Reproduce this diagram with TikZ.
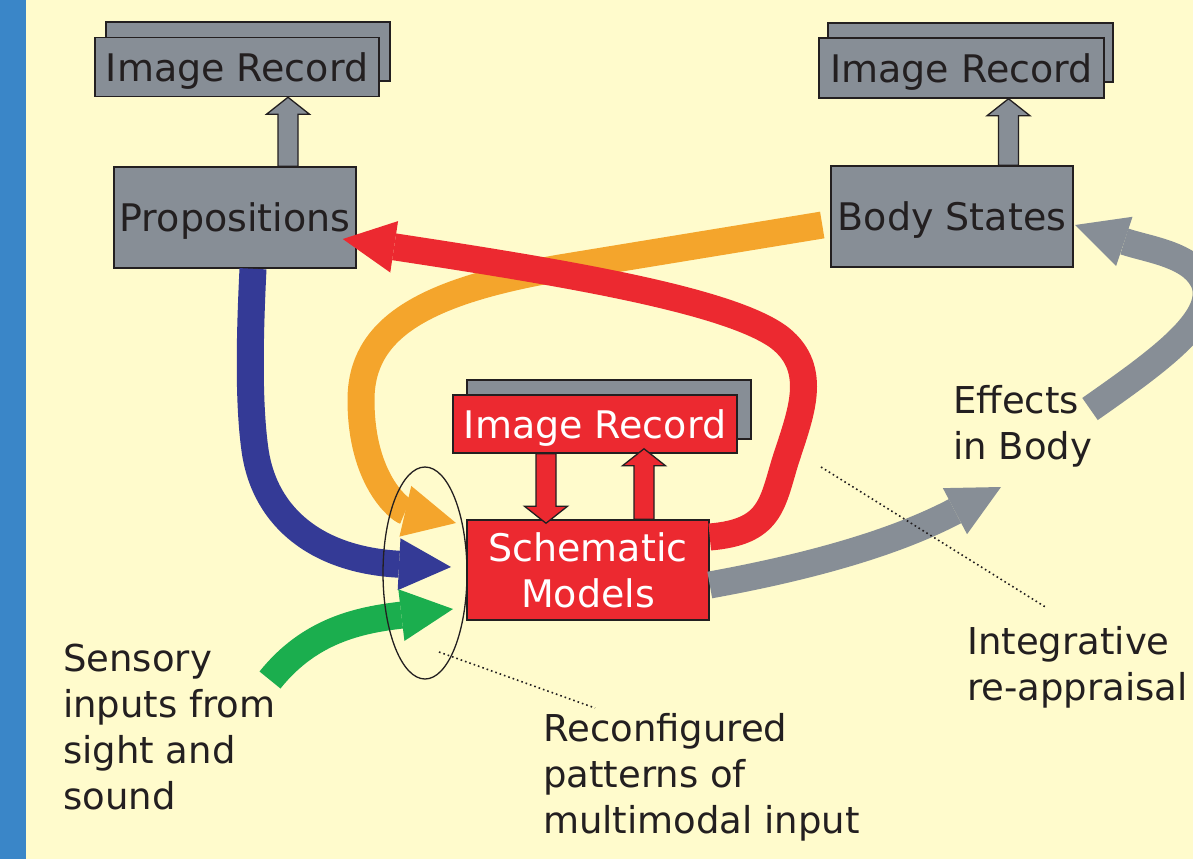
\documentclass[tikz,border=0pt]{standalone}
\usepackage{fontspec}
\setmainfont{DejaVu Sans}
\usetikzlibrary{arrows.meta,calc,shapes.geometric}

\definecolor{paper}{RGB}{255,251,204}
\definecolor{sidebar}{RGB}{58,134,200}
\definecolor{boxgray}{RGB}{135,142,150}
\definecolor{boxred}{RGB}{236,41,48}
\definecolor{inkdark}{RGB}{35,31,32}
\definecolor{flowblue}{RGB}{52,58,150}
\definecolor{floworange}{RGB}{244,165,44}
\definecolor{flowgreen}{RGB}{27,174,78}

\tikzset{
  labelfont/.style={font=\fontsize{37}{46}\selectfont, text=inkdark},
  boxfont/.style={font=\fontsize{38}{46}\selectfont},
  graybox/.style={draw=inkdark, line width=1.5pt, fill=boxgray, inner sep=0pt,
    labelfont, boxfont, text depth=0pt},
  redbox/.style={draw=inkdark, line width=1.5pt, fill=boxred, inner sep=0pt,
    labelfont, boxfont, text=white, align=center},
  backsheet/.style={draw=inkdark, line width=1.5pt, fill=boxgray, inner sep=0pt},
  blockarrow/.style={draw=inkdark, line width=1.3pt, line join=miter},
  flow/.style={line width=27pt,
    -{Triangle[length=52pt,width=52pt,line width=0pt]}},
  % the base anchor of a multi-line caption sits on its last line
  caption/.style={labelfont, anchor=base west, align=left, inner sep=0pt},
  pointer/.style={inkdark, line width=1.6pt, dash pattern=on 1.6pt off 3pt},
}

% vertical block arrows: fill colour, foot coordinate, tip coordinate
\newcommand\blockup[3]{\draw[blockarrow,fill=#1] let \p1=(#2), \p2=(#3) in
  (\x1-10pt,\y1) -- (\x1-10pt,\y2-17pt) -- (\x1-21.5pt,\y2-17pt) -- (\x1,\y2)
  -- (\x1+21.5pt,\y2-17pt) -- (\x1+10pt,\y2-17pt) -- (\x1+10pt,\y1) -- cycle;}
\newcommand\blockdown[3]{\draw[blockarrow,fill=#1] let \p1=(#2), \p2=(#3) in
  (\x1-10pt,\y1) -- (\x1-10pt,\y2+17pt) -- (\x1-21.5pt,\y2+17pt) -- (\x1,\y2)
  -- (\x1+21.5pt,\y2+17pt) -- (\x1+10pt,\y2+17pt) -- (\x1+10pt,\y1) -- cycle;}

\begin{document}
\begin{tikzpicture}[x=1pt,y=-1pt]
  \useasboundingbox (0,0) rectangle (1193,859);
  \clip (0,0) rectangle (1193,859);
  \fill[paper] (0,0) rectangle (1193,859);
  \fill[sidebar] (0,0) rectangle (26,859);

  % stacked record sheets
  \node[backsheet, minimum width=284pt, minimum height=59pt] (recAback) at (248,51.5) {};
  \node[graybox, minimum width=284pt, minimum height=59pt] (recA) at (237,67) {Image Record};
  \node[backsheet, minimum width=285pt, minimum height=59pt] (recBback) at (970.5,52.5) {};
  \node[graybox, minimum width=285pt, minimum height=60pt] (recB) at (961.5,68) {Image Record};
  \node[backsheet, minimum width=284pt, minimum height=59pt] (recCback) at (609,409.5) {};
  \node[redbox, text depth=0pt, minimum width=284pt, minimum height=58pt] (recC) at (595,424) {Image Record};

  % main boxes
  \node[graybox, minimum width=242pt, minimum height=101pt] (prop) at (235,217.5) {Propositions};
  \node[graybox, minimum width=242pt, minimum height=101pt] (body) at (952,216.5) {Body States};
  \node[redbox, minimum width=242pt, minimum height=100pt] (schem) at (588,570)
    {Schematic\\Models};

  % block arrows between boxes
  \blockup{boxgray}{$(prop.north)+(53pt,0)$}{$(recA.south)+(51pt,0)$}
  \blockup{boxgray}{$(body.north)+(56.5pt,0)$}{$(recB.south)+(47pt,0)$}
  \blockdown{boxred}{$(recC.south)+(-49pt,0)$}{$(schem.north)+(-42pt,-4pt)$}
  \blockup{boxred}{$(schem.north)+(56pt,0)$}{$(recC.south)+(49pt,5pt)$}

  % free ends of the flows
  \coordinate (orangeStart) at ($(body.west)+(-8pt,-8.5pt)$);
  \coordinate (orangeTip) at (456,523);
  \coordinate (redStart) at ($(schem.east)+(0,33pt)$);
  \coordinate (redTip) at ($(prop.east)+(-14pt,-21.5pt)$);
  \coordinate (blueStart) at ($(prop.south)+(18pt,0)$);
  \coordinate (blueTip) at (451,567);
  \coordinate (greenStart) at (270,680);
  \coordinate (greenTip) at (453,609);
  \coordinate (effStart) at ($(schem.east)+(0,-15pt)$);
  \coordinate (effTip) at (1001,487);
  \coordinate (loopStart) at (1090,409);
  \coordinate (loopTip) at (1075,225);

  % flows
  \draw[flow, floworange] (orangeStart) -- (560,268)
    .. controls (420,292) and (361,330) .. (361,400)
    .. controls (361,480) and (400,510) .. (orangeTip);
  \draw[flow, boxred] (redStart) .. controls (770,532) and (772,505) .. (785,462)
    .. controls (800,415) and (820,370) .. (780,338)
    .. controls (730,300) and (560,272) .. (redTip);
  \draw[flow, flowblue] (blueStart) .. controls (250,330) and (248,400) .. (255,450)
    .. controls (265,520) and (320,560) .. (blueTip);
  \draw[flow, flowgreen] (greenStart) .. controls (310,630) and (360,620) .. (greenTip);
  \draw[flow, boxgray] (effStart) .. controls (820,565) and (900,540) .. (effTip);
  \draw[flow, boxgray] (loopStart) .. controls (1160,360) and (1215,320) .. (1205,285)
    .. controls (1195,255) and (1150,250) .. (loopTip);

  % grouping of the incoming flows
  \node[draw=inkdark, line width=1.3pt, ellipse, minimum width=84pt,
    minimum height=212pt, inner sep=0pt] (inputs) at (425,573) {};

  % captions (positioned by the baseline of their last line)
  \node[caption] (sensory) at (63,809) {Sensory\\inputs from\\sight and\\sound};
  \node[caption] (reconf) at (543,833) {Reconfigured\\patterns of\\multimodal input};
  \node[caption] (effects) at (953,459) {Effects\\in Body};
  \node[caption] (integr) at (967,700) {Integrative\\re-appraisal};

  % dotted leaders
  \coordinate (leadA) at (439,652);
  \coordinate (leadB) at (595,708);
  \coordinate (leadC) at (821,467);
  \coordinate (leadD) at (1047,608);
  \draw[pointer] (leadA) -- (leadB);
  \draw[pointer] (leadC) -- (leadD);
\end{tikzpicture}
\end{document}
